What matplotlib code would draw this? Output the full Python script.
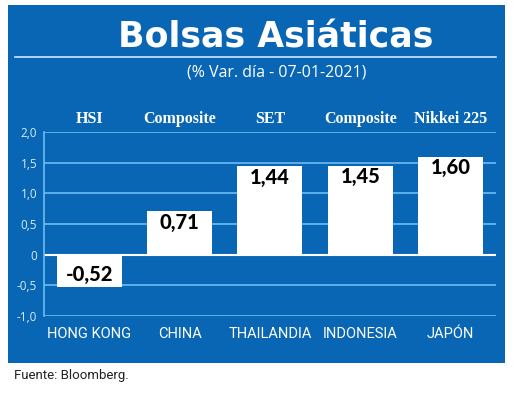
import matplotlib
matplotlib.use("Agg")
import matplotlib.pyplot as plt
from matplotlib.patches import Rectangle
from matplotlib.lines import Line2D

countries = ["HONG KONG", "CHINA", "THAILANDIA", "INDONESIA", "JAPÓN"]
indices = ["HSI", "Composite", "SET", "Composite", "Nikkei 225"]
values = [-0.52, 0.71, 1.44, 1.45, 1.60]
value_labels = ["-0,52", "0,71", "1,44", "1,45", "1,60"]
yticks = [-1.0, -0.5, 0.0, 0.5, 1.0, 1.5, 2.0]
ytick_labels = ["-1,0", "-0,5", "0", "0,5", "1,0", "1,5", "2,0"]

BLUE = "#0866b4"
GRID = "#6cbcf2"
TICK = "#d6ecfb"

fig = plt.figure(figsize=(5.2, 3.95), dpi=100)
fig.patch.set_facecolor("white")
fig.patches.append(Rectangle((0.0154, 0.081), 0.956, 0.906, transform=fig.transFigure,
                             facecolor=BLUE, edgecolor="none", zorder=-10))
fig.lines.append(Line2D([0.029, 0.954], [0.8557, 0.8557], transform=fig.transFigure,
                        color="#cfe8fb", lw=1.2, zorder=-5))

fig.text(0.530, 0.881, "Bolsas Asiáticas", color="white", fontsize=25, fontweight="bold",
         family="DejaVu Sans", ha="center", va="baseline")
fig.text(0.533, 0.817, "(% Var. día - 07-01-2021)", color="white", fontsize=11.5,
         family="Open Sans", ha="center", va="center")
fig.text(0.027, 0.05, "Fuente: Bloomberg.", color="#222222", fontsize=9.5,
         family="Roboto", ha="left", va="center")

ax = fig.add_axes([0.0846, 0.2, 0.869, 0.4658])
ax.set_facecolor("none")
ax.set_zorder(1)
x = list(range(len(values)))
ax.set_xlim(-0.5, len(values) - 0.5)
ax.set_ylim(-1.0, 2.0)
for yv in yticks:
    if yv == 0:
        continue
    ax.axhline(yv, color=GRID, lw=1.2, zorder=1)
ax.axhline(0, color="white", lw=1.5, zorder=1)
ax.bar(x, values, width=0.72, color="white", zorder=2)
for xi, v, lab in zip(x, values, value_labels):
    off = -8 if v > 0 else 9
    ax.annotate(lab, (xi, v), xytext=(0, off), textcoords="offset points",
                ha="center", va="center", fontsize=14.5, fontweight="black",
                family="Lato", color="black", zorder=3)

for s in ["top", "right", "bottom"]:
    ax.spines[s].set_visible(False)
ax.spines["left"].set_color(GRID)
ax.spines["left"].set_linewidth(1.2)
ax.set_yticks(yticks)
ax.set_yticklabels(ytick_labels, color=TICK, fontsize=8.5, family="Open Sans")
ax.tick_params(axis="y", length=0, pad=5)
ax.set_xticks(x)
ax.set_xticklabels(countries, color="white", fontsize=10.5, family="Roboto")
ax.tick_params(axis="x", length=0, pad=8)

for xi, name in zip(x, indices):
    ax.text(xi, 2.147, name, ha="center", va="baseline", color="white", fontsize=11.5,
            family="Liberation Serif", fontweight="bold", clip_on=False)

fig.savefig("out.png", dpi=100)
